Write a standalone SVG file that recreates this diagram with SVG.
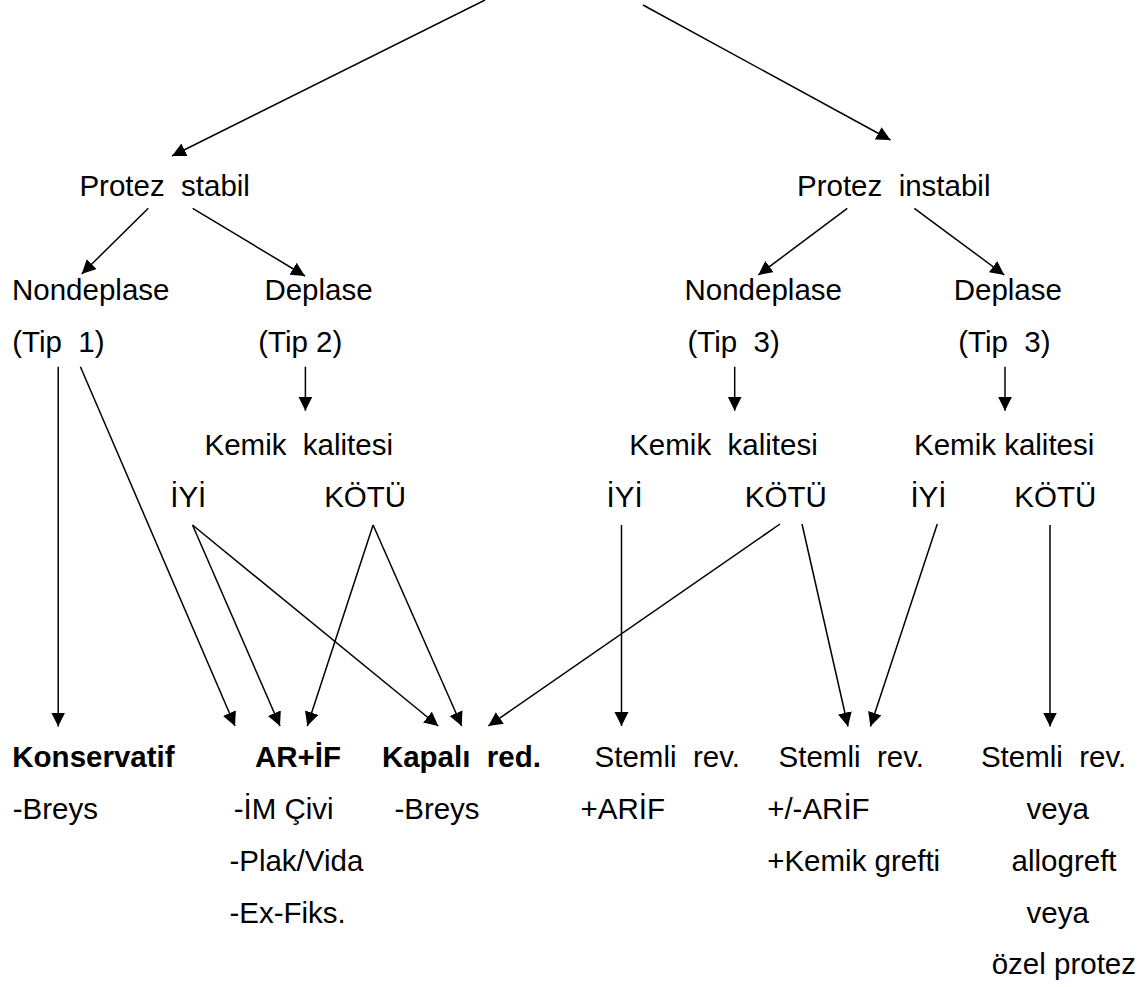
<svg xmlns="http://www.w3.org/2000/svg" width="1143" height="987" viewBox="0 0 1143 987" xml:space="preserve">
<style>
text { font-family: "Liberation Sans", Arial, sans-serif; font-size: 29.5px; fill: #000; white-space: pre; }
.b { font-weight: bold; }
.c line { stroke: #000; stroke-width: 1.5; marker-end: url(#ah); }
</style>
<defs>
<marker id="ah" markerUnits="userSpaceOnUse" markerWidth="15" markerHeight="15" refX="14" refY="7" orient="auto">
<path d="M0,0 L14,7 L0,14 Z" fill="#000"/>
</marker>
</defs>
<rect width="1143" height="987" fill="#fff"/>
<g id="connectors" class="c">
<line x1="485" y1="0" x2="172" y2="156"/>
<line x1="643" y1="5" x2="890.5" y2="140"/>
<line x1="148.3" y1="208.3" x2="81.7" y2="274"/>
<line x1="192.7" y1="208.3" x2="305" y2="276"/>
<line x1="847.3" y1="208.3" x2="758.3" y2="275"/>
<line x1="914.3" y1="208.3" x2="1004.3" y2="275"/>
<line x1="305.4" y1="366.7" x2="305.4" y2="410.7"/>
<line x1="734.7" y1="366.7" x2="734.7" y2="410.7"/>
<line x1="1005" y1="366.7" x2="1005" y2="410.7"/>
<line x1="58.2" y1="366.7" x2="58.2" y2="726.5"/>
<line x1="80.4" y1="366.7" x2="235" y2="726"/>
<line x1="192.5" y1="525" x2="280" y2="726"/>
<line x1="192.5" y1="525" x2="438.3" y2="726"/>
<line x1="373.1" y1="525" x2="307.3" y2="726"/>
<line x1="373.1" y1="525" x2="461.7" y2="726"/>
<line x1="780" y1="524" x2="488.3" y2="726"/>
<line x1="621.5" y1="525" x2="621.5" y2="726"/>
<line x1="802" y1="524" x2="848" y2="726.5"/>
<line x1="937.3" y1="524" x2="870.4" y2="726.5"/>
<line x1="1050" y1="525" x2="1050" y2="726.5"/>
</g>
<g id="protez-stabil"><text x="79.4" y="196">Protez  stabil</text></g>
<g id="protez-instabil"><text x="797" y="196">Protez  instabil</text></g>
<g id="nondeplase-1"><text x="12" y="299.5">Nondeplase</text><text x="12.2" y="351.5">(Tip  1)</text></g>
<g id="deplase-2"><text x="264.4" y="299.5">Deplase</text><text x="258.2" y="351.5">(Tip 2)</text></g>
<g id="nondeplase-3"><text x="684.5" y="299.5">Nondeplase</text><text x="687.5" y="351.5">(Tip  3)</text></g>
<g id="deplase-3"><text x="953.7" y="299.5">Deplase</text><text x="958.2" y="351.5">(Tip  3)</text></g>
<g id="kemik-1"><text x="204.5" y="455">Kemik  kalitesi</text></g>
<g id="kemik-2"><text x="629.2" y="455">Kemik  kalitesi</text></g>
<g id="kemik-3"><text x="914" y="455">Kemik kalitesi</text></g>
<g id="iyi-1"><text x="170.2" y="506.7">İYİ</text></g>
<g id="kotu-1"><text x="324.2" y="506.7">KÖTÜ</text></g>
<g id="iyi-2"><text x="606.6" y="506.7">İYİ</text></g>
<g id="kotu-2"><text x="744.8" y="506.7">KÖTÜ</text></g>
<g id="iyi-3"><text x="910.4" y="506.7">İYİ</text></g>
<g id="kotu-3"><text x="1014.3" y="506.7">KÖTÜ</text></g>
<g id="konservatif"><text class="b" x="12.3" y="766.5">Konservatif</text><text x="12.7" y="818.5">-Breys</text></g>
<g id="arif"><text class="b" x="255" y="766.5">AR+İF</text><text x="233.7" y="818.5">-İM Çivi</text><text x="229.4" y="870.5">-Plak/Vida</text><text x="229.4" y="922.5">-Ex-Fiks.</text></g>
<g id="kapali"><text class="b" x="381.9" y="766.5">Kapalı  red.</text><text x="394.4" y="818.5">-Breys</text></g>
<g id="stemli-1"><text x="594.6" y="766.5">Stemli  rev.</text><text x="580.6" y="818.5">+ARİF</text></g>
<g id="stemli-2"><text x="778.6" y="766.5">Stemli  rev.</text><text x="767.2" y="818.5">+/-ARİF</text><text x="767.2" y="870.5">+Kemik grefti</text></g>
<g id="stemli-3"><text x="980.9" y="766.5">Stemli  rev.</text><text x="1026.5" y="818.5">veya</text><text x="1011.6" y="870.5">allogreft</text><text x="1026.5" y="922.5">veya</text><text x="991.7" y="973.5">özel protez</text></g>
</svg>
